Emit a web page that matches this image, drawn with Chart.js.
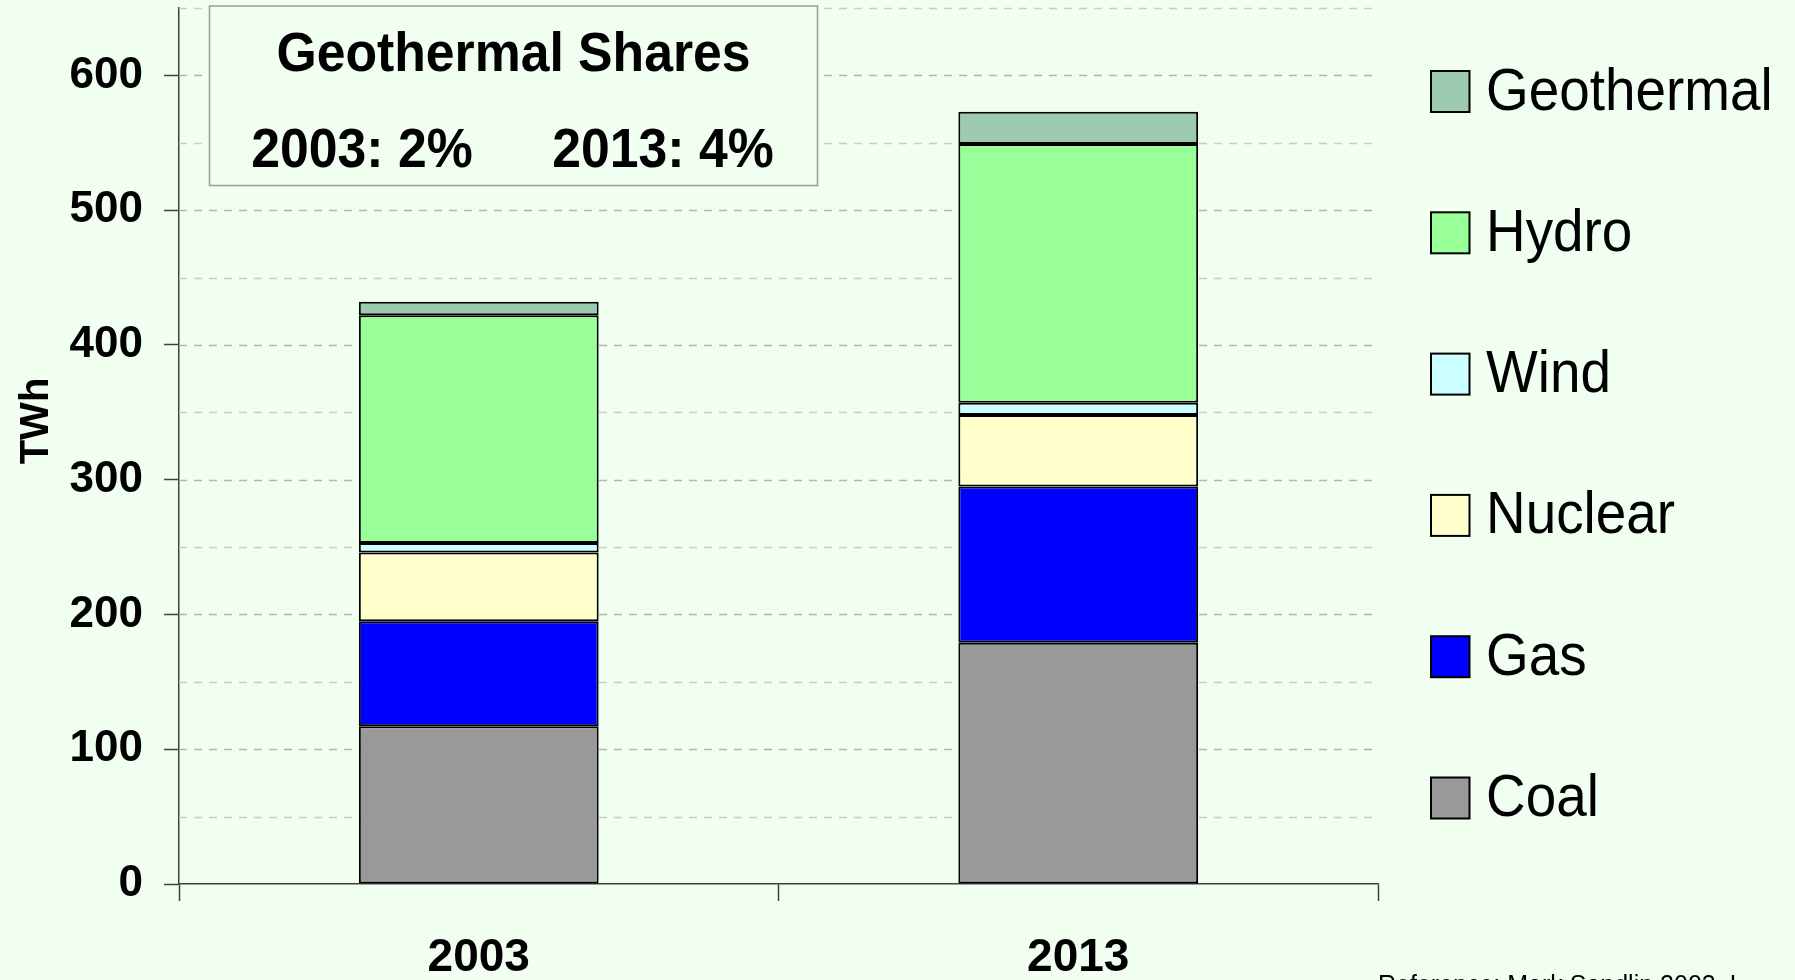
<!DOCTYPE html>
<html>
<head>
<meta charset="utf-8">
<title>Geothermal Shares</title>
<script src="https://cdn.jsdelivr.net/npm/chart.js@4.4.1/dist/chart.umd.min.js"></script>
<style>
  html, body { margin: 0; padding: 0; background: #f0fff0; overflow: hidden; }
  #wrap { width: 1795px; height: 980px; }
</style>
</head>
<body>
<div id="wrap"><canvas id="chart" width="1795" height="980"></canvas></div>
<script>
// data (TWh)
const categories = ["2003", "2013"];
const coal = [117, 179];
const gas = [78, 116];
const nuclear = [51, 53];
const wind = [7, 9];
const hydro = [169, 192];
const geothermal = [10, 24];

const seriesNames = ["Coal", "Gas", "Nuclear", "Wind", "Hydro", "Geothermal"];
const seriesColors = ["#999999", "#0000ff", "#ffffcc", "#ccffff", "#99ff99", "#9ccbb0"];

const yMax = 650;
const yStep = 50;
const yLabelStep = 100;

const boxTitle = "Geothermal Shares";
const boxShares = ["2003: 2%", "2013: 4%"];
const footnote = "Reference: Mark Sandlin 2003, I";

const FONT = "'Liberation Sans', Arial, Helvetica, sans-serif";

// dashed gridlines behind the bars
const gridPlugin = {
  id: "dashedGrid",
  beforeDatasetsDraw(chart) {
    const { ctx, chartArea } = chart;
    const y = chart.scales.y;
    ctx.save();
    ctx.setLineDash([8, 7]);
    ctx.lineWidth = 1.5;
    y.ticks.forEach((t) => {
      if (t.value === 0) return;
      const py = Math.round(y.getPixelForValue(t.value)) + 0.5;
      ctx.strokeStyle = t.value % yLabelStep === 0 ? "#b4b4b4" : "#cccccc";
      ctx.beginPath();
      ctx.moveTo(chartArea.left, py);
      ctx.lineTo(chartArea.right, py);
      ctx.stroke();
    });
    ctx.restore();
  },
};

// annotation box, y title, legend and footnote
const extrasPlugin = {
  id: "extras",
  afterDraw(chart) {
    const { ctx } = chart;
    ctx.save();

    // annotation box
    ctx.fillStyle = "#f0fff0";
    ctx.fillRect(209.5, 6, 608, 179.5);
    ctx.strokeStyle = "#9a9a9a";
    ctx.lineWidth = 1.5;
    ctx.strokeRect(209.5, 6, 608, 179.5);
    ctx.fillStyle = "#000";
    ctx.textAlign = "center";
    ctx.textBaseline = "alphabetic";
    ctx.font = "bold 55px " + FONT;
    drawSqueezed(ctx, boxTitle, 513.5, 71, 0.94);
    drawSqueezed(ctx, boxShares[0], 362, 167, 0.94);
    drawSqueezed(ctx, boxShares[1], 663, 167, 0.94);

    // y axis title
    ctx.save();
    ctx.translate(37, 421);
    ctx.rotate(-Math.PI / 2);
    ctx.font = "bold 40px " + FONT;
    ctx.textBaseline = "middle";
    ctx.fillText("TWh", 0, 0);
    ctx.restore();

    // legend, top item = last dataset
    const ds = chart.data.datasets.slice().reverse();
    ds.forEach((d, i) => {
      const cy = 91.5 + i * 141.3;
      ctx.fillStyle = d.backgroundColor;
      ctx.fillRect(1431, cy - 20.5, 38.5, 41);
      ctx.strokeStyle = "#000";
      ctx.lineWidth = 2;
      ctx.strokeRect(1431, cy - 20.5, 38.5, 41);
      ctx.fillStyle = "#000";
      ctx.font = "59px " + FONT;
      ctx.textAlign = "left";
      drawSqueezed(ctx, d.label, 1486, cy + 18, 0.93);
    });

    // footnote, cut by the bottom edge
    ctx.font = "25px " + FONT;
    ctx.textAlign = "left";
    ctx.fillText(footnote, 1378, 993);

    ctx.restore();
  },
};

function drawSqueezed(ctx, text, x, y, sx) {
  ctx.save();
  ctx.translate(x, y);
  ctx.scale(sx, 1);
  ctx.fillText(text, 0, 0);
  ctx.restore();
}

const seriesData = [coal, gas, nuclear, wind, hydro, geothermal];

new Chart(document.getElementById("chart"), {
  type: "bar",
  data: {
    labels: categories,
    datasets: seriesData.map((vals, i) => ({
      label: seriesNames[i],
      data: vals,
      backgroundColor: seriesColors[i],
      borderColor: "#000",
      borderWidth: 2,
      borderSkipped: false,
      categoryPercentage: 1.0,
      barPercentage: 0.4,
    })),
  },
  options: {
    responsive: false,
    animation: false,
    layout: { padding: { top: 8, right: 417, left: 0, bottom: 0 } },
    plugins: {
      legend: { display: false },
      tooltip: { enabled: false },
    },
    scales: {
      x: {
        stacked: true,
        afterFit: (s) => { s.height = 96; s.paddingLeft = 0; s.paddingRight = 0; },
        grid: {
          drawOnChartArea: false,
          drawTicks: true,
          tickLength: 17,
          tickColor: "#404040",
          tickWidth: 1.5,
        },
        border: { color: "#404040", width: 1.5 },
        ticks: {
          color: "#000",
          padding: 30,
          font: { family: FONT, size: 46, weight: "bold" },
        },
      },
      y: {
        stacked: true,
        min: 0,
        max: yMax,
        afterFit: (s) => { s.width = 179; s.paddingTop = 0; s.paddingBottom = 0; },
        grid: {
          drawOnChartArea: false,
          drawTicks: true,
          tickLength: 15,
          tickWidth: 1.5,
          tickColor: (c) => (c.tick && c.tick.value % yLabelStep === 0 ? "#404040" : "rgba(0,0,0,0)"),
        },
        border: { color: "#404040", width: 1.5 },
        ticks: {
          stepSize: yStep,
          color: "#000",
          padding: 21,
          font: { family: FONT, size: 44, weight: "bold" },
          callback: (v) => (v % yLabelStep === 0 ? v : ""),
        },
      },
    },
  },
  plugins: [gridPlugin, extrasPlugin],
});
</script>
</body>
</html>
